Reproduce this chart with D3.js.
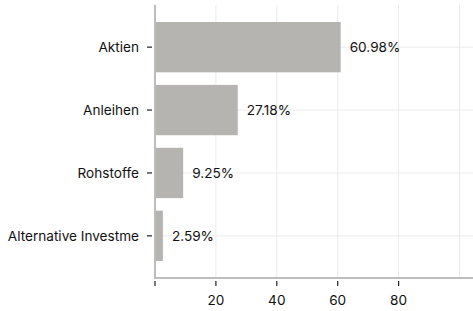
<!DOCTYPE html>
<html>
<head>
<meta charset="utf-8">
<script src="https://cdn.jsdelivr.net/npm/d3@7"></script>
<style>
  body { margin: 0; background: #fff; }
  svg text { font-family: Inter, "Noto Sans", sans-serif; fill: #111; }
</style>
</head>
<body>
<div id="chart"></div>
<script>
const categories = ["Aktien", "Anleihen", "Rohstoffe", "Alternative Investme"];
const values = [60.98, 27.18, 9.25, 2.59];
const xTicks = [0, 20, 40, 60, 80];
const xGrid = [20, 40, 60, 80, 100];

const width = 473, height = 311;
const margin = { top: 5, right: 0, bottom: 33, left: 155 };
const fontSize = 13.6;

const svg = d3.select("#chart").append("svg")
    .attr("width", width)
    .attr("height", height);

const x = d3.scaleLinear()
    .domain([0, 100])
    .range([margin.left, 459.5]);

const y = d3.scaleBand()
    .domain(categories)
    .range([margin.top, height - margin.bottom])
    .paddingInner(0.2)
    .paddingOuter(0.27);

const data = categories.map((c, i) => ({ name: c, value: values[i] }));

// grid lines
svg.append("g").selectAll("line.v")
    .data(xGrid)
    .join("line")
    .attr("x1", d => x(d)).attr("x2", d => x(d))
    .attr("y1", margin.top).attr("y2", height - margin.bottom)
    .attr("stroke", "#ebebeb").attr("stroke-width", 1);

svg.append("g").selectAll("line.h")
    .data(categories)
    .join("line")
    .attr("x1", margin.left).attr("x2", width)
    .attr("y1", d => y(d) + y.bandwidth() / 2)
    .attr("y2", d => y(d) + y.bandwidth() / 2)
    .attr("stroke", "#ebebeb").attr("stroke-width", 1);

// bars
svg.append("g").selectAll("rect")
    .data(data)
    .join("rect")
    .attr("x", x(0))
    .attr("y", d => y(d.name))
    .attr("width", d => x(d.value) - x(0))
    .attr("height", y.bandwidth())
    .attr("fill", "#b5b4b0");

// value labels
svg.append("g").selectAll("text")
    .data(data)
    .join("text")
    .attr("x", d => x(d.value) + 9)
    .attr("y", d => y(d.name) + y.bandwidth() / 2)
    .attr("dy", "0.35em")
    .attr("font-size", fontSize)
    .text(d => d.value.toFixed(2) + "%");

// axis lines
svg.append("line")
    .attr("x1", x(0)).attr("x2", x(0))
    .attr("y1", margin.top).attr("y2", height - margin.bottom)
    .attr("stroke", "#bdbdbd").attr("stroke-width", 2);

svg.append("line")
    .attr("x1", x(0) - 1).attr("x2", width)
    .attr("y1", height - margin.bottom).attr("y2", height - margin.bottom)
    .attr("stroke", "#bdbdbd").attr("stroke-width", 2);

// y axis ticks + labels
const yAxis = svg.append("g");
yAxis.selectAll("line")
    .data(categories)
    .join("line")
    .attr("x1", x(0) - 8).attr("x2", x(0) - 3)
    .attr("y1", d => y(d) + y.bandwidth() / 2)
    .attr("y2", d => y(d) + y.bandwidth() / 2)
    .attr("stroke", "#222").attr("stroke-width", 1.2);
yAxis.selectAll("text")
    .data(categories)
    .join("text")
    .attr("x", x(0) - 16)
    .attr("y", d => y(d) + y.bandwidth() / 2)
    .attr("dy", "0.35em")
    .attr("text-anchor", "end")
    .attr("font-size", fontSize)
    .text(d => d);

// x axis ticks + labels
const xAxis = svg.append("g");
const axisY = height - margin.bottom;
xAxis.selectAll("line")
    .data(xTicks)
    .join("line")
    .attr("x1", d => x(d)).attr("x2", d => x(d))
    .attr("y1", axisY + 3).attr("y2", axisY + 8)
    .attr("stroke", "#222").attr("stroke-width", 1.2);
xAxis.selectAll("text")
    .data(xTicks.filter(d => d !== 0))
    .join("text")
    .attr("x", d => x(d))
    .attr("y", axisY + 27)
    .attr("text-anchor", "middle")
    .attr("font-size", fontSize)
    .text(d => d);
</script>
</body>
</html>
